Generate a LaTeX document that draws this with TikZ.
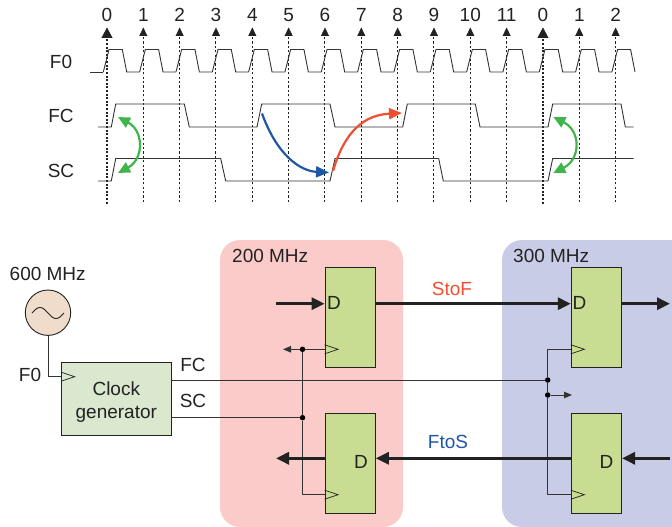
\documentclass[tikz,border=0pt]{standalone}
\usepackage{fontspec}
\setmainfont{Liberation Sans}
\usetikzlibrary{positioning,arrows.meta,calc}
\definecolor{cink}{HTML}{222222}
\definecolor{cwire}{HTML}{333333}
\definecolor{cfast}{HTML}{C9CCE6}
\definecolor{cslow}{HTML}{FBCBC9}
\definecolor{cff}{HTML}{C8DD91}
\definecolor{cgen}{HTML}{D9E8CF}
\definecolor{cosc}{HTML}{F0DCCB}
\definecolor{cred}{HTML}{F04E30}
\definecolor{cblue}{HTML}{1F57A4}
\definecolor{cgreen}{HTML}{3FB54A}

\begin{document}
\begin{tikzpicture}[
  x=1pt, y=-1pt,
  font=\fontsize{19}{23}\selectfont,
  text=cink,
  zone/.style={rounded corners=20pt, draw=none},
  ff/.style={draw=cink, line width=0.9pt, fill=cff, minimum width=50.3pt, minimum height=100pt, inner sep=0pt},
  gen/.style={draw=cink, line width=0.9pt, fill=cgen, align=center, minimum width=109.3pt, minimum height=73pt, inner sep=0pt},
  osc/.style={circle, draw=cink, line width=0.9pt, fill=cosc, minimum size=45.4pt, inner sep=0pt},
  lbl/.style={inner sep=0pt},
  tick/.style={cink, line width=1pt, dash pattern=on 2.2pt off 2.2pt},
  tickzero/.style={cink, line width=2pt, dash pattern=on 2pt off 1.6pt},
  tipup/.style={-{Triangle[length=8.5pt,width=8pt]}},
  tipzero/.style={-{Triangle[length=10.5pt,width=11pt]}},
  wave/.style={cwire, line width=0.9pt},
  wire/.style={cwire, line width=0.9pt},
  clkin/.style={cink, line width=0.7pt},
  dataline/.style={cink, line width=3pt, -{Triangle[length=13pt,width=12pt]}},
  hop/.style={line width=2.2pt, -{Triangle[length=13pt,width=11pt]}},
  both/.style={cgreen, line width=2.2pt, {Triangle[length=12pt,width=11pt]}-{Triangle[length=12pt,width=11pt]}},
  junc/.style={circle, fill=black, inner sep=0pt, minimum size=5.5pt},
  stub/.style={wire, -{Triangle[length=8pt,width=6.5pt]}},
]
\useasboundingbox (0,0) rectangle (672,527);

% ---- domains ----
\fill[cslow, zone] (220,240) rectangle (403,527);
\fill[cfast, zone] (502,240) rectangle (692,527);
\node[lbl, anchor=west] (slowlab) at (232,256) {200 MHz};
\node[lbl, anchor=west] (fastlab) at (513,256) {300 MHz};

% ---- timing: ticks ----
\foreach \i/\lab in {1/1,2/2,3/3,4/4,5/5,6/6,7/7,8/8,9/9,10/10,11/11,13/1,14/2} {
  \node[lbl] (n\i) at ({107+36.33*\i},15) {\lab};
  \coordinate (top\i) at ({107+36.33*\i},27.5);
  \coordinate (bot\i) at ({107+36.33*\i},202);
  \draw[tick] (bot\i) -- ($(top\i)+(0,6)$);
  \draw[tipup, cink] ($(top\i)+(0,7.5)$) -- (top\i);
}
\foreach \i/\lab in {0/0,12/0} {
  \node[lbl] (n\i) at ({107+36.33*\i},15) {\lab};
  \coordinate (top\i) at ({107+36.33*\i},27.5);
  \coordinate (bot\i) at ({107+36.33*\i},203.5);
  \draw[tickzero] (bot\i) -- ($(top\i)+(0,8)$);
  \draw[tipzero, cink] ($(top\i)+(0,9.5)$) -- (top\i);
}

% ---- timing: waves ----
\node[lbl] (lf0) at (61,61.5) {F0};
\node[lbl] (lfc) at (61,115.5) {FC};
\node[lbl] (lsc) at (61,170.5) {SC};
\draw[wave] (90,72) -- (103.3,72);
\foreach \i in {0,...,13} {
  \draw[wave] ({103.3+36.33*\i},72) -- ({109+36.33*\i},49.5) -- ({122.3+36.33*\i},49.5)
    -- ({126.7+36.33*\i},72) -- ({139.6+36.33*\i},72);
}
\draw[wave] (611.9,72) -- (617.6,49.5) -- (630.6,49.5) -- (635,72);
\draw[wave] (98,127) -- (111.3,127) -- (115.7,104) -- (184.3,104) -- (189.3,127) -- (257,127)
  -- (261.7,104) -- (330,104) -- (335,127) -- (402.7,127) -- (407.3,104) -- (475.3,104)
  -- (480,127) -- (548,127) -- (552.7,104) -- (621,104) -- (625.3,127) -- (633.7,127);
\draw[wave] (98,181) -- (111.3,181) -- (115.7,158.5) -- (220.7,158.5) -- (225.7,181) -- (330,181)
  -- (335,158.5) -- (438.7,158.5) -- (443.3,181) -- (548,181) -- (552.7,158.5) -- (633.7,158.5);

% ---- timing: relations ----
\coordinate (ga) at (118,117);
\coordinate (gb) at (118,173);
\coordinate (gc) at (553.3,117);
\coordinate (gd) at (553.3,173);
\draw[both] (ga) .. controls (144,131) and (144,159) .. (gb);
\draw[both] (gc) .. controls (581,131) and (581,159) .. (gd);
\coordinate (ba) at (262,113.5);
\coordinate (bb) at (329,172.5);
\coordinate (ra) at (333,171);
\coordinate (rb) at (402,113);
\draw[hop, cblue] (ba) .. controls (277,155) and (300,171) .. (bb);
\draw[hop, cred] (ra) .. controls (345,130) and (365,115) .. (rb);

% ---- circuit blocks ----
\node[osc] (osc) at (48,312.7) {};
\draw[cink, line width=0.9pt] plot[domain=-1:1, samples=40] ({48+16*\x},{313+5.5*sin(180*\x)});
\node[lbl] (osclab) at (47.7,274) {600 MHz};
\node[gen] (gen) at (116.3,399.2) {\rule{0pt}{19pt}Clock\\generator};
\node[ff] (ffa) at (350.2,317.3) {};
\node[ff, below=45.4pt of ffa] (ffb) {};
\node[ff, right=195pt of ffa] (ffc) {};
\node[ff, right=195pt of ffb] (ffd) {};
\node[lbl] (da) at (334,303) {D};
\node[lbl] (db) at (361,461.5) {D};
\node[lbl] (dc) at (579.5,303) {D};
\node[lbl] (dd) at (606.5,461.5) {D};

% ---- clocks ----
\coordinate (cka) at (ffa.west |- 0,349.3);
\coordinate (ckb) at (ffb.west |- 0,494.7);
\coordinate (ckc) at (ffc.west |- 0,349.3);
\coordinate (ckd) at (ffd.west |- 0,494.7);
\coordinate (ckg) at (gen.west |- 0,376.7);
\foreach \c in {cka,ckb,ckc,ckd,ckg} {
  \draw[clkin] ($(\c)+(0,-4.5)$) -- ($(\c)+(13.5,0)$) -- ($(\c)+(0,4.5)$);
}
\node[junc] (ja) at (302.5,349.3) {};
\node[junc] (jb) at (302.5,417.7) {};
\node[junc] (jc) at (547.7,380) {};
\node[junc] (jd) at (547.7,395) {};
\coordinate (sa) at (283,349.3);
\coordinate (sb) at (572,395);
\draw[wire] (osc.south) |- (ckg);
\draw[wire] (gen.east |- jc) -- (jc);
\draw[wire] (gen.east |- jb) -- (jb);
\draw[wire] (ja) -- (cka);
\draw[wire] (ja) -- (jb) |- (ckb);
\draw[wire] (ckc) -| (jc) -- (jd) |- (ckd);
\draw[stub] (ja) -- (sa);
\draw[stub] (jd) -- (sb);
\node[lbl] (fclab) at (193,365) {FC};
\node[lbl] (sclab) at (193,401) {SC};
\node[lbl] (f0lab) at (30,375) {F0};

% ---- data ----
\coordinate (ina) at (275.5,303.7);
\coordinate (outc) at (670,303.7);
\coordinate (ind) at (670,458.3);
\coordinate (outb) at (276,458.3);
\draw[dataline] (ina) -- (ffa.west |- ina);
\draw[dataline] (ffa.east |- ina) -- (ffc.west |- ina);
\draw[dataline] (ffc.east |- ina) -- (outc);
\draw[dataline] (ind) -- (ffd.east |- ind);
\draw[dataline] (ffd.west |- ind) -- (ffb.east |- ind);
\draw[dataline] (ffb.west |- ind) -- (outb);
\node[lbl, text=cred] (stof) at (452,288.5) {StoF};
\node[lbl, text=cblue] (ftos) at (448,442) {FtoS};
\end{tikzpicture}
\end{document}
